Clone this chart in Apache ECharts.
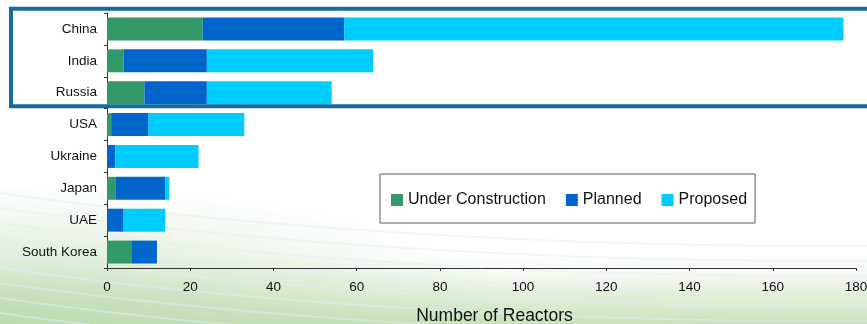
<!DOCTYPE html>
<html>
<head>
<meta charset="utf-8">
<script src="https://cdn.jsdelivr.net/npm/echarts@6/dist/echarts.min.js"></script>
<style>
  html, body { margin: 0; padding: 0; }
  body {
    width: 867px; height: 324px; overflow: hidden;
    background:
      radial-gradient(ellipse 520px 140px at 0% 100%, rgba(186,216,172,0.8), rgba(255,255,255,0) 100%),
      linear-gradient(to bottom, #ffffff 0px, #ffffff 255px, #f1f7ee 278px, #d9ebcf 305px, #c9e2bc 324px);
  }
  #chart { width: 867px; height: 324px; }
</style>
</head>
<body>
<div id="chart"></div>
<script>
// Reactors by country (count of units)
const countries = ['China', 'India', 'Russia', 'USA', 'Ukraine', 'Japan', 'UAE', 'South Korea'];
const underConstruction = [23, 4, 9, 1, 0, 2, 0, 6];
const planned = [34, 20, 15, 9, 2, 12, 4, 6];
const proposed = [120, 40, 30, 23, 20, 1, 10, 0];
const xTicks = { min: 0, max: 180, interval: 20 };

const FONT = '"Liberation Sans", Arial, sans-serif';
const chart = echarts.init(document.getElementById('chart'), null, { renderer: 'canvas' });

// faint curved streaks in the lower-left background
const streaks = [];
for (let i = 0; i < 9; i++) {
  const y0 = 190 + i * 15;
  streaks.push({
    type: 'bezierCurve',
    silent: true,
    z: -10,
    shape: { x1: -20, y1: y0, cpx1: 250, cpy1: y0 + 40, cpx2: 600, cpy2: y0 + 60, x2: 900, y2: y0 + 55 },
    style: { stroke: 'rgba(228,238,245,0.5)', lineWidth: 2, fill: null }
  });
}

chart.setOption({
  animation: false,
  textStyle: { fontFamily: FONT },
  grid: { left: 107, right: 11, top: 13, bottom: 56, containLabel: false, outerBoundsMode: 'none' },
  legend: {
    left: 380, top: 174,
    orient: 'horizontal',
    itemWidth: 12, itemHeight: 12, itemGap: 20,
    icon: 'rect',
    padding: [18, 8, 15, 11],
    backgroundColor: '#ffffff',
    borderColor: '#5a5a5a', borderWidth: 1, borderRadius: 0,
    textStyle: { fontSize: 16, color: '#111', fontFamily: FONT },
    data: ['Under Construction', 'Planned', 'Proposed']
  },
  xAxis: {
    type: 'value',
    min: xTicks.min, max: xTicks.max, interval: xTicks.interval,
    name: 'Number of Reactors',
    nameLocation: 'middle',
    nameGap: 39,
    nameTextStyle: { fontSize: 17.5, color: '#111', fontFamily: FONT, padding: [0, 0, 0, 26] },
    axisLine: { show: true, lineStyle: { color: '#333', width: 1 } },
    axisTick: { show: true, length: 3, lineStyle: { color: '#333' } },
    axisLabel: { fontSize: 13.5, color: '#111', margin: 12, fontFamily: FONT },
    splitLine: { show: false }
  },
  yAxis: {
    type: 'category',
    data: countries,
    inverse: true,
    axisLine: { show: true, lineStyle: { color: '#333', width: 1 } },
    axisTick: { show: true, length: 3, lineStyle: { color: '#333' } },
    axisLabel: { fontSize: 13.5, color: '#111', margin: 10, fontFamily: FONT }
  },
  series: [
    { name: 'Under Construction', type: 'bar', stack: 'total', data: underConstruction,
      barCategoryGap: '28%', itemStyle: { color: '#339966' } },
    { name: 'Planned', type: 'bar', stack: 'total', data: planned,
      itemStyle: { color: '#0066CC' } },
    { name: 'Proposed', type: 'bar', stack: 'total', data: proposed,
      itemStyle: { color: '#00CCFF' } }
  ],
  graphic: streaks.concat([
    {
      type: 'rect',
      silent: true,
      z: 100,
      shape: { x: 11, y: 8.7, width: 900, height: 97.5 },
      style: { fill: null, stroke: '#176a9c', lineWidth: 4 }
    }
  ])
});
</script>
</body>
</html>
